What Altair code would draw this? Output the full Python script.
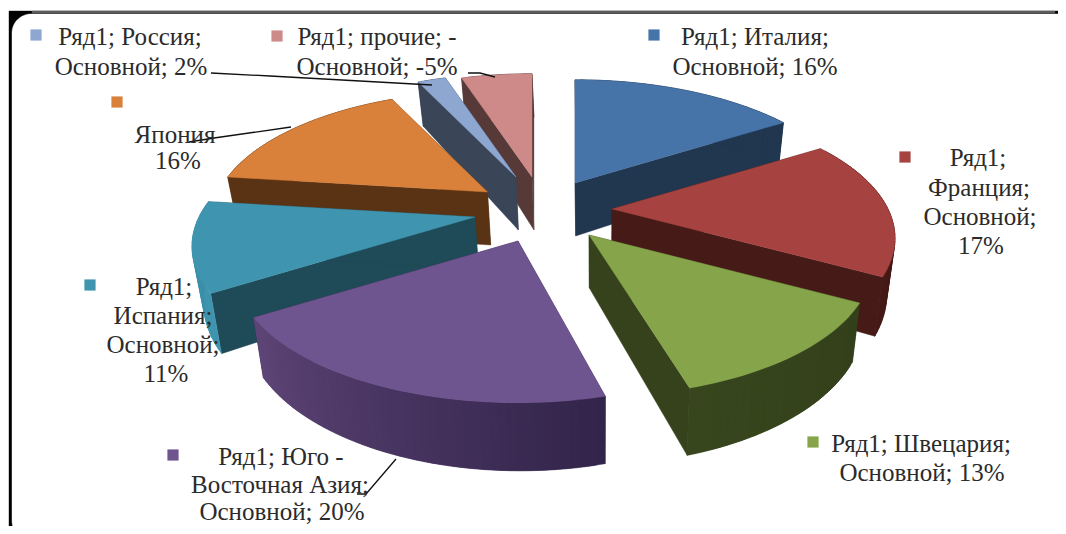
import numpy as np
import altair as alt

# ---- data ----
names = ["Италия", "Франция", "Швецария", "Юго-Восточная Азия", "Испания", "Япония", "Россия", "прочие"]
shares = [16, 17, 13, 20, 11, 16, 2, -5]
top_colors = ["#4674A9", "#A64340", "#86A44A", "#6F558F", "#3F95AF", "#D9803A", "#8DA7D0", "#CE8A88"]
wall_colors = ["#21364F", "#451A17", "#35421C", "#35264A", "#1F4A57", "#5A3315", "#3A4558", "#573938"]
side_from = ["#21364F", "#451A17", "#37461D", "#5E4577", "#3A8AA2", "#5A3315", "#3A4558", "#573938"]
side_to = ["#21364F", "#3A1412", "#33401B", "#32244A", "#3F95AF", "#5A3315", "#3A4558", "#573938"]
label_lines = [
    ["Ряд1; Италия;", "Основной; 16%"],
    ["Ряд1;", "Франция;", "Основной;", "17%"],
    ["Ряд1; Швецария;", "Основной; 13%"],
    ["Ряд1; Юго -", "Восточная Азия;", "Основной; 20%"],
    ["Ряд1;", "Испания;", "Основной;", "11%"],
    ["Япония", "16%"],
    ["Ряд1; Россия;", "Основной; 2%"],
    ["Ряд1; прочие; -", "Основной; -5%"],
]

# ---- layout ----
W, H, M = 1050, 518, 8
apex = [(575, 183), (612, 209), (589, 235), (518, 241), (475, 217), (487.5, 192), (516, 177), (532, 177)]
radius_scale = [1, 1, 1, 1, 1, 0.975, 1, 1]
end_trim_deg = [0, 0, 2.3, 0, 0, 0, 0, 0]
draw_order = [7, 6, 0, 5, 1, 4, 2, 3]
RX, RY, PERSP, DEPTH, SQUEEZE, VANISH = 276.0, 126.0, 0.221, 53.0, 0.028, 600.0
label_xy = [
    [(755, 37), (755, 67)],
    [(978, 158), (979, 188), (980, 217), (981, 246)],
    [(921, 444), (922, 473)],
    [(281, 457), (280, 485), (282, 512)],
    [(164, 287), (163, 316), (163, 345), (166, 374)],
    [(175, 135), (178, 161)],
    [(130, 37), (131, 67)],
    [(377, 37), (377, 67)],
]
key_xy = [(654, 35), (905, 157), (813, 442), (173, 455), (90, 285), (117, 102), (36, 35), (277, 36)]
leaders = [
    [(211, 73), (270, 76), (432, 85)],
    [(468, 73), (480, 73), (495, 77)],
    [(189, 142), (214, 138), (291, 127)],
    [(357, 494), (366, 494), (396, 459)],
]


def mix(c1, c2, t):
    a = [int(c1[i:i + 2], 16) for i in (1, 3, 5)]
    b = [int(c2[i:i + 2], 16) for i in (1, 3, 5)]
    return "#%02x%02x%02x" % tuple(round(p + (q - p) * t) for p, q in zip(a, b))


def feature(points, fill):
    ring = [[float(x), float(y)] for x, y in points]
    ring.append(ring[0])
    return {"type": "Feature", "properties": {"fill": fill},
            "geometry": {"type": "Polygon", "coordinates": [ring]}}


def rim(i, theta):
    u, v = np.sin(theta), np.cos(theta)
    d = 1 + PERSP * v
    s = radius_scale[i]
    return apex[i][0] + s * RX * u / d, apex[i][1] - s * RY * v / d, DEPTH / d


def lower(x, y, h):
    return x - (x - VANISH) * SQUEEZE, y + h


features = []
# frame of the chart area
features.append(feature([(9, 11), (1090, 11), (1090, 560), (9, 560)], "#000000"))
arc = np.linspace(0, np.pi / 2, 16)
R = 19
rounded = [(12 + R - R * np.cos(a), 14 + R - R * np.sin(a)) for a in arc]
rounded += [(1075 - R + R * np.sin(a), 14 + R - R * np.cos(a)) for a in arc]
rounded += [(1075 - R + R * np.cos(a), 540 - R + R * np.sin(a)) for a in arc]
rounded += [(12 + R - R * np.sin(a), 540 - R + R * np.cos(a)) for a in arc]
features.append(feature(rounded, "#ffffff"))
features.append(feature([(32, 11), (1055, 11), (1055, 13.5), (32, 13.5)], "#5c5c5c"))

cum = np.cumsum([0] + [abs(s) for s in shares]) / 100 * 2 * np.pi
for i in draw_order:
    t0, t1 = cum[i], cum[i + 1] - np.radians(end_trim_deg[i])
    ax, ay = apex[i]
    ts = np.linspace(t0, t1, max(int((t1 - t0) * 40), 3))
    pts = [rim(i, t) for t in ts]
    apex_low = lower(ax, ay, DEPTH)
    for end in (pts[0], pts[-1]):
        low = lower(end[0], end[1], end[2])
        features.append(feature([(ax, ay), (end[0], end[1]), low, apex_low], wall_colors[i]))
    n = len(pts) - 1
    # side segments overlap their neighbour so no background shows through the joins
    for k in range(n):
        p, q = pts[k], pts[min(k + 2, n)]
        col = mix(side_from[i], side_to[i], (n - 1 - k) / max(n - 1, 1))
        mid = pts[k + 1]
        features.append(feature([(p[0], p[1]), (mid[0], mid[1]), (q[0], q[1]),
                                 lower(q[0], q[1], q[2]), lower(mid[0], mid[1], mid[2]),
                                 lower(p[0], p[1], p[2])], col))
    features.append(feature([(ax, ay)] + [(p[0], p[1]) for p in pts], top_colors[i]))

x_scale = alt.Scale(domain=[M, M + W], range=[0, W])
y_scale = alt.Scale(domain=[M, M + H], range=[0, H])

shapes = alt.Chart(alt.Data(values=features)).mark_geoshape(strokeWidth=0.4).encode(
    fill=alt.Fill("properties.fill:N", scale=None),
    stroke=alt.Stroke("properties.fill:N", scale=None),
).project(type="identity", scale=1, translate=[-M, -M])

leader_rows = [{"id": j, "o": k, "x": p[0], "y": p[1]} for j, l in enumerate(leaders) for k, p in enumerate(l)]
lines = alt.Chart(alt.Data(values=leader_rows)).mark_line(color="#111111", strokeWidth=1.3).encode(
    x=alt.X("x:Q", scale=x_scale, axis=None),
    y=alt.Y("y:Q", scale=y_scale, axis=None),
    detail="id:N",
    order="o:Q",
)

key_rows = [{"x": p[0], "y": p[1], "c": c} for p, c in zip(key_xy, top_colors)]
keys = alt.Chart(alt.Data(values=key_rows)).mark_square(size=125, opacity=1).encode(
    x=alt.X("x:Q", scale=x_scale, axis=None),
    y=alt.Y("y:Q", scale=y_scale, axis=None),
    color=alt.Color("c:N", scale=None),
)

text_rows = [{"x": p[0], "y": p[1], "t": t}
             for ls, ps in zip(label_lines, label_xy) for t, p in zip(ls, ps)]
texts = alt.Chart(alt.Data(values=text_rows)).mark_text(
    font="Liberation Serif", fontSize=25, color="#2b2b2b", align="center", baseline="middle"
).encode(
    x=alt.X("x:Q", scale=x_scale, axis=None),
    y=alt.Y("y:Q", scale=y_scale, axis=None),
    text="t:N",
)

chart = alt.layer(shapes, lines, keys, texts).properties(
    width=W, height=H, padding=0, background="white",
    autosize=alt.AutoSizeParams(type="none"),
).configure_view(stroke=None)

chart.save("out.html", embed_options={"renderer": "svg", "actions": False})
